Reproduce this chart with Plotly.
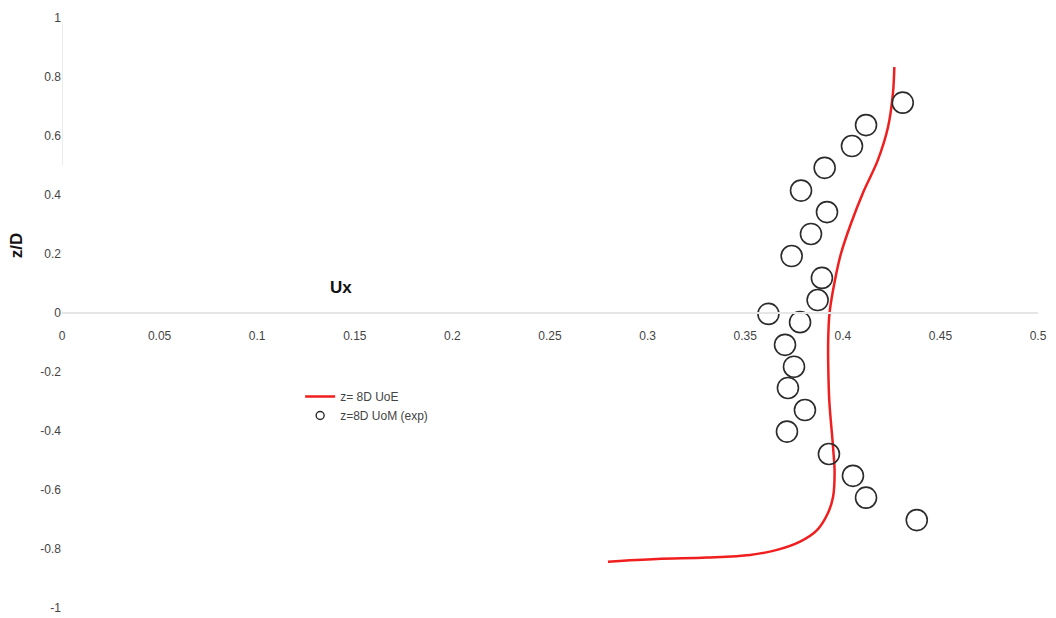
import plotly.graph_objects as go

# Simulated velocity profile (UoE), z = 8D
sim_ux = [0.4264, 0.4257, 0.4232, 0.4180, 0.4103, 0.4040, 0.3990, 0.3960, 0.3932,
          0.3925, 0.3926, 0.3931, 0.3950, 0.3958, 0.3950, 0.3924, 0.3868, 0.3781,
          0.3663, 0.3525, 0.3304, 0.3048, 0.2797]
sim_z = [0.834, 0.746, 0.631, 0.519, 0.407, 0.300, 0.200, 0.112, 0.000,
         -0.100, -0.200, -0.300, -0.454, -0.540, -0.624, -0.678, -0.736, -0.775,
         -0.803, -0.820, -0.829, -0.834, -0.843]

# Measured velocity profile (UoM, experiment), z = 8D
exp_ux = [0.4307, 0.4119, 0.4047, 0.3907, 0.3786, 0.3919, 0.3837, 0.3738, 0.3893,
          0.3871, 0.3619, 0.3781, 0.3704, 0.3750, 0.3719, 0.3806, 0.3714, 0.3929,
          0.4052, 0.4119, 0.4379]
exp_z = [0.713, 0.637, 0.566, 0.492, 0.415, 0.342, 0.268, 0.193, 0.119,
         0.044, -0.003, -0.031, -0.108, -0.182, -0.254, -0.329, -0.402, -0.478,
         -0.552, -0.626, -0.702]

x_ticks = [0, 0.05, 0.1, 0.15, 0.2, 0.25, 0.3, 0.35, 0.4, 0.45, 0.5]
x_labels = ["0", "0.05", "0.1", "0.15", "0.2", "0.25", "0.3", "0.35", "0.4", "0.45", "0.5"]
y_ticks = [1, 0.8, 0.6, 0.4, 0.2, 0, -0.2, -0.4, -0.6, -0.8, -1]
y_labels = ["1", "0.8", "0.6", "0.4", "0.2", "0", "-0.2", "-0.4", "-0.6", "-0.8", "-1"]

FONT = "Liberation Sans, Arial, Helvetica, sans-serif"

fig = go.Figure()

fig.add_trace(go.Scatter(
    x=sim_ux, y=sim_z, mode="lines", name="z= 8D UoE",
    line=dict(color="#f01e1e", width=2.5, shape="spline", smoothing=1.0),
))

fig.add_trace(go.Scatter(
    x=exp_ux, y=exp_z, mode="markers", showlegend=False, legendgroup="exp",
    marker=dict(symbol="circle-open", size=21, color="#2b2b2b", line=dict(width=1.6)),
))
# small legend symbol for the measured series
fig.add_trace(go.Scatter(
    x=[None], y=[None], mode="markers", name="z=8D UoM (exp)", legendgroup="exp",
    marker=dict(symbol="circle-open", size=8, color="#2b2b2b", line=dict(width=1.4)),
))

fig.update_layout(
    width=1056, height=618,
    margin=dict(l=62, r=18, t=18, b=10, autoexpand=False),
    paper_bgcolor="white", plot_bgcolor="white",
    font=dict(family=FONT, size=12, color="#444444"),
    showlegend=True,
    legend=dict(
        x=0.244, y=0.383, xanchor="left", yanchor="top",
        bgcolor="rgba(0,0,0,0)", font=dict(size=12, color="#444444"),
        tracegroupgap=0, itemwidth=30,
    ),
    xaxis=dict(
        range=[0, 0.5], tickvals=x_ticks, ticktext=x_labels,
        anchor="free", position=0.5, automargin=False,
        showgrid=False, zeroline=False,
        showline=True, linecolor="#e6e6e6", linewidth=1.5,
        ticks="", ticklabelstandoff=12,
    ),
    yaxis=dict(
        range=[-1, 1], tickvals=y_ticks, ticktext=y_labels, automargin=False,
        showgrid=False, zeroline=False, showline=False, ticks="",
    ),
    shapes=[
        dict(type="line", xref="x", yref="y", x0=0, x1=0, y0=0.5, y1=0.985,
             line=dict(color="#e0e0e0", width=1.2)),
    ],
    annotations=[
        dict(text="<b>Ux</b>", x=0.143, y=0.088, xref="x", yref="y",
             showarrow=False, font=dict(size=17, color="#111111", family=FONT)),
        dict(text="<b>z/D</b>", x=-0.047, y=0.23, xref="paper", yref="y",
             xanchor="center", textangle=-90, showarrow=False,
             font=dict(size=17, color="#111111", family=FONT)),
    ],
)

fig.write_html("out.html")
